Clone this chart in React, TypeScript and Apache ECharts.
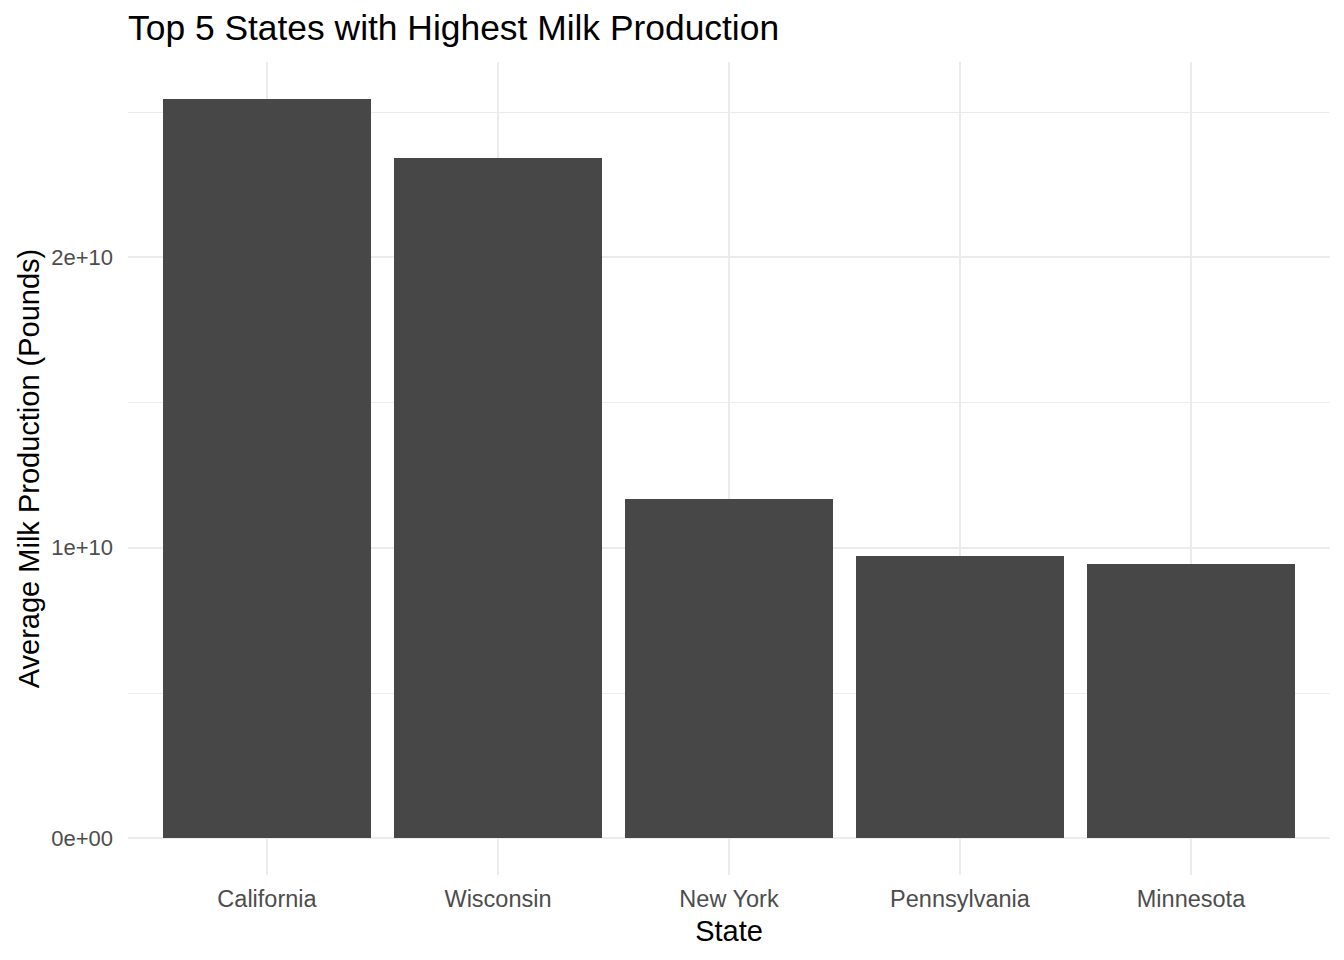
import React, { useEffect, useRef } from "react";
import * as echarts from "echarts";

const states = ["California", "Wisconsin", "New York", "Pennsylvania", "Minnesota"];
const production = [2.544e10, 2.341e10, 1.167e10, 0.971e10, 0.943e10];
const majorTicks = [0, 1e10, 2e10];
const titleText = "Top 5 States with Highest Milk Production";
const xTitle = "State";
const yTitle = "Average Milk Production (Pounds)";

const FONT = "'Liberation Sans', Arial, Helvetica, sans-serif";
const GRID_COLOR = "#EBEBEB";
const TEXT_GREY = "#4D4D4D";

// pixel geometry (ggplot-like panel)
const PX_PER_1E10 = 290.5;
const ZERO_Y = 838;
const PANEL_TOP = 62;
const PANEL_BOTTOM = 875;
const PANEL_LEFT = 128;
const PANEL_RIGHT = 1329.6;
const CAT_FIRST = 267;
const CAT_LAST = 1191;

function fmt(v: number): string {
  if (v === 0) return "0e+00";
  const m = v / 1e10;
  return `${Math.round(m)}e+10`;
}

export default function App() {
  const ref = useRef<HTMLDivElement>(null);
  useEffect(() => {
    if (!ref.current) return;
    const chart = echarts.init(ref.current, null, { renderer: "svg" });
    const W = 1344;
    const H = 960;
    const yMinBars = -((PANEL_BOTTOM - ZERO_Y) / PX_PER_1E10) * 1e10;
    const yMaxBars = ((ZERO_Y - PANEL_TOP) / PX_PER_1E10) * 1e10;
    const majorTop = ZERO_Y - 2 * PX_PER_1E10;
    const minorTop = ZERO_Y - 2.5 * PX_PER_1E10;
    chart.setOption({
      animation: false,
      backgroundColor: "#FFFFFF",
      textStyle: { fontFamily: FONT },
      grid: [
        { left: PANEL_LEFT, right: W - PANEL_RIGHT, top: majorTop, bottom: H - ZERO_Y },
        { left: PANEL_LEFT, right: W - PANEL_RIGHT, top: minorTop, bottom: H - ZERO_Y },
        { left: CAT_FIRST, right: W - CAT_LAST, top: PANEL_TOP, bottom: H - PANEL_BOTTOM },
      ],
      xAxis: [
        { type: "value", gridIndex: 0, show: false, min: 0, max: 1 },
        { type: "value", gridIndex: 1, show: false, min: 0, max: 1 },
        {
          type: "category",
          gridIndex: 2,
          data: states,
          boundaryGap: false,
          axisLine: { show: false },
          axisTick: { show: false },
          splitLine: { show: true, lineStyle: { color: GRID_COLOR, width: 2 } },
          axisLabel: {
            color: TEXT_GREY,
            fontSize: 23.5,
            fontFamily: FONT,
            margin: 24,
            verticalAlign: "middle",
            interval: 0,
          },
        },
      ],
      yAxis: [
        {
          type: "value",
          gridIndex: 0,
          min: 0,
          max: majorTicks[majorTicks.length - 1],
          interval: 1e10,
          axisLine: { show: false },
          axisTick: { show: false },
          splitLine: { show: true, lineStyle: { color: GRID_COLOR, width: 2 } },
          axisLabel: {
            color: TEXT_GREY,
            fontSize: 22,
            fontFamily: FONT,
            margin: 15,
            formatter: (v: number) => fmt(v),
          },
          z: 1,
        },
        {
          type: "value",
          gridIndex: 1,
          min: 0,
          max: 2.5e10,
          interval: 5e9,
          axisLine: { show: false },
          axisTick: { show: false },
          axisLabel: { show: false },
          splitLine: { show: true, lineStyle: { color: GRID_COLOR, width: 1 } },
          z: 0,
        },
        {
          type: "value",
          gridIndex: 2,
          min: yMinBars,
          max: yMaxBars,
          show: false,
          splitLine: { show: false },
        },
      ],
      series: [
        {
          type: "bar",
          xAxisIndex: 2,
          yAxisIndex: 2,
          data: production,
          barWidth: 208,
          itemStyle: { color: "#474747" },
          silent: true,
        },
      ],
      graphic: [
        {
          type: "text",
          left: PANEL_LEFT,
          top: 10,
          style: {
            text: titleText,
            fontSize: 35.4,
            fontFamily: FONT,
            fill: "#000000",
          },
        },
        {
          type: "text",
          x: (CAT_FIRST + CAT_LAST) / 2,
          y: 931,
          style: {
            text: xTitle,
            fontSize: 29,
            fontFamily: FONT,
            fill: "#000000",
            align: "center",
            verticalAlign: "middle",
          },
        },
        {
          type: "text",
          x: 29,
          y: (PANEL_TOP + PANEL_BOTTOM) / 2,
          rotation: Math.PI / 2,
          style: {
            text: yTitle,
            fontSize: 29,
            fontFamily: FONT,
            fill: "#000000",
            align: "center",
            verticalAlign: "middle",
          },
        },
      ],
    });
    return () => chart.dispose();
  }, []);
  return (
    <div
      ref={ref}
      style={{ position: "absolute", left: 0, top: 0, width: 1344, height: 960 }}
    />
  );
}
